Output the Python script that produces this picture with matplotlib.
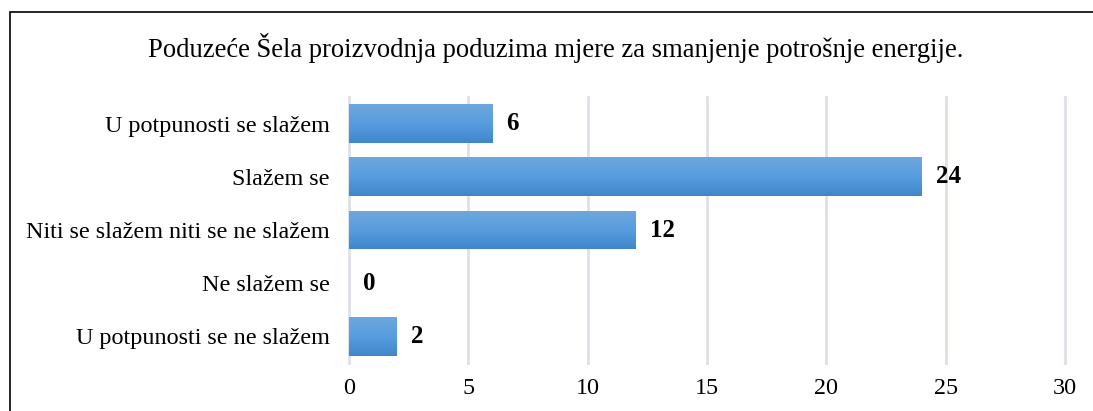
import numpy as np
import matplotlib.pyplot as plt
from matplotlib.patches import Rectangle
from matplotlib.colors import LinearSegmentedColormap

categories = ['U potpunosti se slažem', 'Slažem se', 'Niti se slažem niti se ne slažem',
              'Ne slažem se', 'U potpunosti se ne slažem']
values = [6, 24, 12, 0, 2]
title = 'Poduzeće Šela proizvodnja poduzima mjere za smanjenje potrošnje energije.'

plt.rcParams['font.family'] = ['Liberation Serif', 'DejaVu Serif']

W, H = 1093, 411
fig = plt.figure(figsize=(W / 100, H / 100), dpi=100)
ax = fig.add_axes([349 / W, 48 / H, (1065 - 349) / W, (363 - 97) / H])

ypos = np.arange(len(categories))
bars = ax.barh(ypos, values, height=0.73, color='#5b9bd5', zorder=3)

# vertical gradient inside each bar (light on top, darker at bottom)
cmap = LinearSegmentedColormap.from_list('bar', ['#3f86cb', '#579ddf', '#6fa7dc'])
grad = np.linspace(0, 1, 100).reshape(-1, 1)
for b in bars:
    if b.get_width() <= 0:
        continue
    x0, y0 = b.get_x(), b.get_y()
    im = ax.imshow(grad, cmap=cmap, aspect='auto', origin='lower',
                   extent=[x0, x0 + b.get_width(), y0 + b.get_height(), y0], zorder=4)
    im.set_clip_path(b)

for y, v in zip(ypos, values):
    ax.text(v + 0.6, y, str(v), va='center', ha='left', fontsize=18,
            fontweight='bold', zorder=5)

ax.set_xlim(0, 30)
ax.set_ylim(4.5, -0.5)
ax.set_xticks(range(0, 31, 5))
ax.set_yticks(ypos)
ax.set_yticklabels(categories)
ax.tick_params(axis='both', length=0, labelsize=17.4)
ax.tick_params(axis='x', pad=11)
ax.tick_params(axis='y', pad=14)
ax.grid(axis='x', color='#dde1e8', linewidth=2, zorder=0)
for gl in ax.get_xgridlines():
    gl.set_clip_on(False)
for s in ax.spines.values():
    s.set_visible(False)
ax.set_aspect('auto')

fig.text(556 / W, 1 - 48 / H, title, ha='center', va='center', fontsize=19.2)

fig.patches.append(Rectangle((10 / W, -0.1), 1.5, (H - 12) / H + 0.1,
                             transform=fig.transFigure, fill=False,
                             edgecolor='black', linewidth=1.2))

fig.savefig('out.png', dpi=100)
